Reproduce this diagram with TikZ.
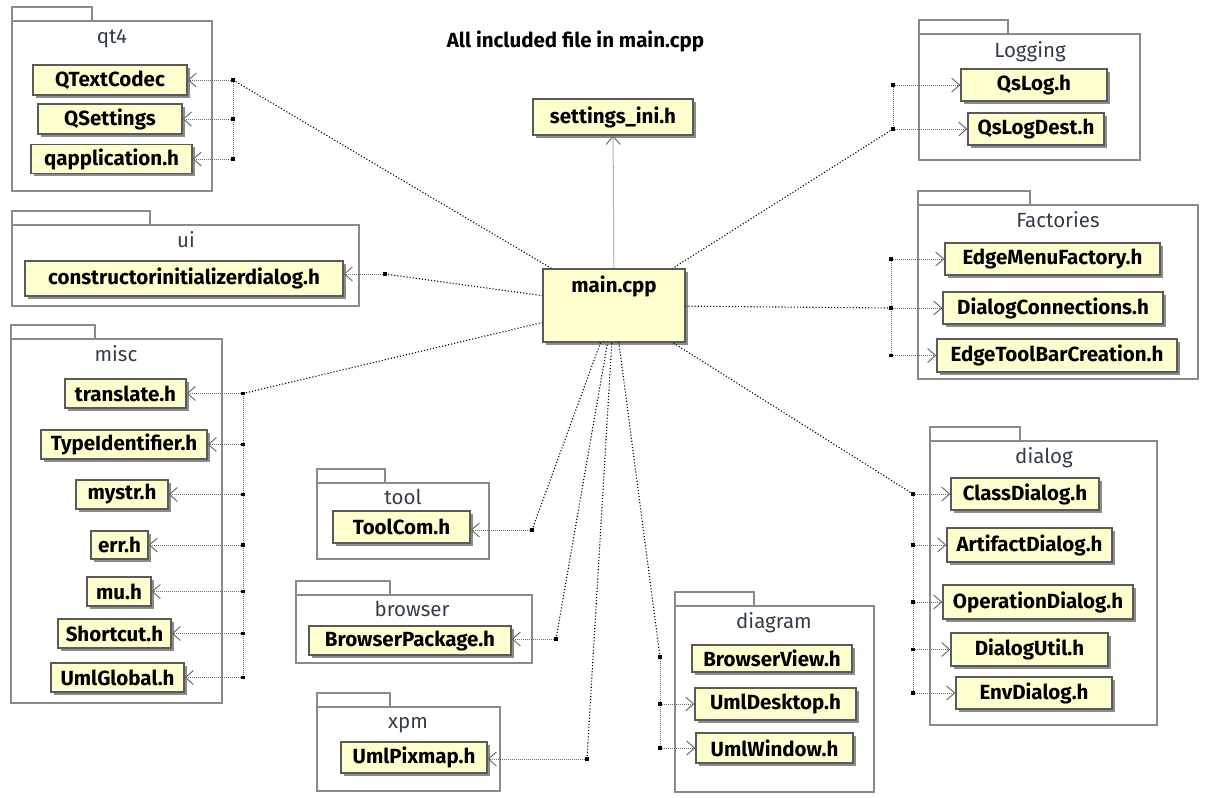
\documentclass[tikz,border=0pt]{standalone}
\usepackage{fontspec}
\setmainfont{Fira Sans}
\usepackage{tikz}
\usetikzlibrary{arrows.meta, shadows}
\definecolor{note}{HTML}{FEFECE}
\definecolor{edge}{HTML}{5A5A5A}
\definecolor{pkgline}{HTML}{8A8A8A}
\definecolor{pkgtext}{HTML}{333D4A}

\begin{document}
\begin{tikzpicture}[x=1pt, y=-1pt,
    cls/.style={draw=edge, line width=1.3pt, fill=note, inner sep=0pt,
      font=\bfseries\fontsize{20.5}{24}\selectfont,
      drop shadow={shadow xshift=2.5pt, shadow yshift=-2.5pt, fill=black!45, opacity=1}},
    pkg/.style={draw=pkgline, line width=1.8pt},
    pkglbl/.style={font=\fontsize{20.5}{24}\selectfont, text=pkgtext, anchor=base},
    inc/.style={draw=black, line width=1.1pt, dash pattern=on 1.1pt off 2pt},
    branch/.style={draw=pkgline!80!black, line width=1pt, dash pattern=on 1pt off 1pt},
    arr/.style={branch, -{Straight Barb[length=8pt, width=14pt]}}]
  \useasboundingbox (0,0) rectangle (1216,798);

  \foreach \x/\y/\X/\Y/\t/\lx/\ly/\l in {
      12/21/212/191/92/112/43/qt4,
      12/225/359/306/150/186/247/ui,
      11/339/222/703/95/116/361/misc,
      317/483/489/559/385/403/504/tool,
      296/595/532/663/390/412/616/browser,
      317/707/500/791/390/408/728/xpm,
      675/606/874/792/754/774/628/diagram,
      919/34/1140/160/1008/1030/57/Logging,
      918/205/1198/379/1030/1058/227/Factories,
      930/441/1157/725/1020/1044/463/dialog} {
    \draw[pkg] (\x,\y-14) rectangle (\t,\y);
    \draw[pkg] (\x,\y) rectangle (\X,\Y);
    \node[pkglbl] (pkg\l) at (\lx,\ly) {\l};
  }

  \foreach \n/\x/\y/\w/\h/\t in {
      qtextcodec/110/80/154/30/QTextCodec,
      qsettings/110/119/144/30/QSettings,
      qapplication/111.5/159/161/29/qapplication.h,
      settings/613/117/160/36/settings\_ini.h,
      qslog/1034/85/146/32/QsLog.h,
      qslogdest/1036/129/136/32/QsLogDest.h,
      ctorinit/184/278.5/318/35/constructorinitializerdialog.h,
      translate/125.5/393.5/121/29/translate.h,
      typeident/124/444.5/166/29/TypeIdentifier.h,
      mystr/122/494.5/92/29/mystr.h,
      err/119.5/545/57/28/err.h,
      mu/119/591.5/64/29/mu.h,
      shortcut/114.5/633.5/113/29/Shortcut.h,
      umlglobal/117.5/677.5/133/29/UmlGlobal.h,
      toolcom/401.5/527/137/32/ToolCom.h,
      browserpkg/410/640.5/202/29/BrowserPackage.h,
      umlpixmap/414/757.5/146/31/UmlPixmap.h,
      browserview/772/658.5/160/27/BrowserView.h,
      umldesktop/775.5/704/161/32/UmlDesktop.h,
      umlwindow/774.5/748/157/30/UmlWindow.h,
      edgemenu/1052.5/259/215/32/EdgeMenuFactory.h,
      dialogconn/1053/308/220/32/DialogConnections.h,
      edgetoolbar/1057/355.5/240/33/EdgeToolBarCreation.h,
      classdialog/1025/494/148/32/ClassDialog.h,
      artifact/1029.5/545/165/34/ArtifactDialog.h,
      operation/1038/602/190/34/OperationDialog.h,
      dialogutil/1029.5/649.5/157/33/DialogUtil.h,
      envdialog/1034/693/156/32/EnvDialog.h}
    \node[cls, minimum width=\w pt, minimum height=\h pt] (\n) at (\x,\y) {\t};

  \node[cls, minimum width=142pt, minimum height=73pt] (main) at (614,305.5) {};
  \node[font=\bfseries\fontsize{20.5}{24}\selectfont, anchor=base] (maintext) at (614,292) {main.cpp};
  \node[font=\bfseries\fontsize{20.5}{24}\selectfont, anchor=base] (title) at (575.5,47) {All included file in main.cpp};

  \coordinate (qtJ) at (233,80);
  \coordinate (uiJ) at (385,274);
  \coordinate (miscJ) at (243,393.5);
  \coordinate (toolJ) at (532,530);
  \coordinate (browserJ) at (556,639);
  \coordinate (xpmJ) at (587,759);
  \coordinate (diagramJ) at (660,657);
  \coordinate (dialogJ) at (913,494);
  \coordinate (factJ) at (891,308);
  \coordinate (logJ) at (893,129);

  \foreach \j in {qtJ,uiJ,miscJ,toolJ,browserJ,xpmJ,diagramJ,dialogJ,factJ,logJ}
    \draw[inc] (\j) -- (main);
  \draw[arr] (main) -- (settings);

  \draw[branch] (qtJ) -- (qtJ |- qapplication);
  \draw[branch] (miscJ) -- (miscJ |- umlglobal);
  \draw[branch] (diagramJ) -- (diagramJ |- umlwindow);
  \draw[branch] (dialogJ) -- (dialogJ |- envdialog);
  \draw[branch] (factJ |- edgemenu) -- (factJ |- edgetoolbar);
  \draw[branch] (logJ |- qslog) -- (logJ);

  \foreach \j/\n in {qtJ/qtextcodec, qtJ/qsettings, qtJ/qapplication,
      miscJ/translate, miscJ/typeident, miscJ/mystr, miscJ/err, miscJ/mu,
      miscJ/shortcut, miscJ/umlglobal} {
    \draw[arr] (\j |- \n) -- (\n.east);
    \fill (\j |- \n) +(-1.75,-1.75) rectangle +(1.75,1.75);
  }
  \foreach \j/\n in {uiJ/ctorinit, toolJ/toolcom, browserJ/browserpkg, xpmJ/umlpixmap} {
    \draw[arr] (\j) -- (\j -| \n.east);
    \fill (\j) +(-1.75,-1.75) rectangle +(1.75,1.75);
  }
  \foreach \j/\n in {logJ/qslog, logJ/qslogdest, factJ/edgemenu, factJ/dialogconn,
      factJ/edgetoolbar, dialogJ/classdialog, dialogJ/artifact, dialogJ/operation,
      dialogJ/dialogutil, dialogJ/envdialog, diagramJ/umldesktop, diagramJ/umlwindow} {
    \draw[arr] (\j |- \n) -- (\n.west);
    \fill (\j |- \n) +(-1.75,-1.75) rectangle +(1.75,1.75);
  }
  \fill (diagramJ) +(-1.75,-1.75) rectangle +(1.75,1.75);
\end{tikzpicture}
\end{document}
